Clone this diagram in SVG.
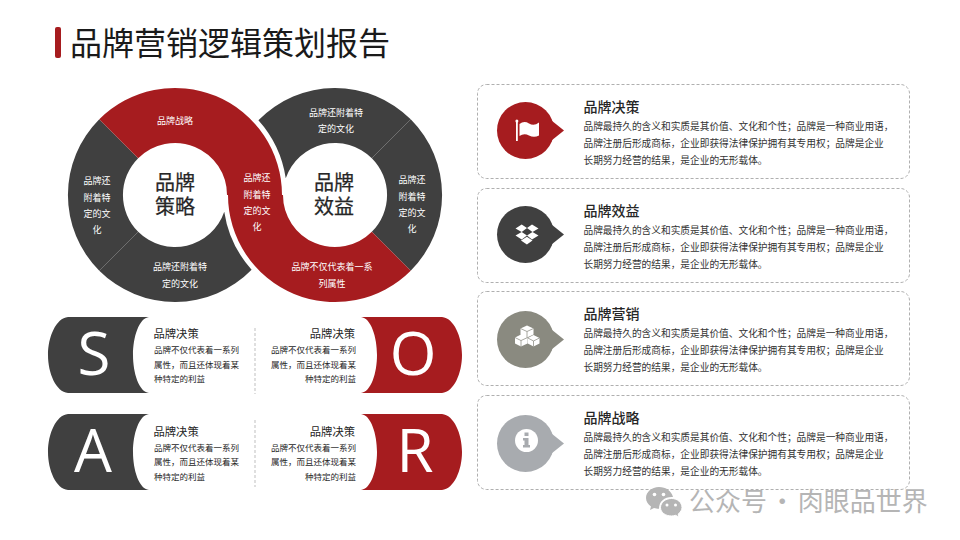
<svg xmlns="http://www.w3.org/2000/svg" width="960" height="540" viewBox="0 0 960 540">
<defs>
<style>
text{font-family:"Noto Sans CJK SC","Microsoft YaHei",sans-serif}
.red{fill:#A61C1F}.dark{fill:#404040}
.rl{font-size:9px;fill:#fff;text-anchor:middle;dominant-baseline:central}
.ctr{font-size:20px;fill:#262626;text-anchor:middle}
.let{font-family:"Open Sans",sans-serif;font-size:60px;fill:#fff;text-anchor:middle}
.h{font-size:11.3px;fill:#262626}.b{font-size:8.5px;fill:#262626}
.end{text-anchor:end}
.card{fill:#fff;stroke:#a6a6a6;stroke-width:.9;stroke-dasharray:3 2}
.ch{font-size:14px;font-weight:500;fill:#262626}.cb{font-size:9.7px;fill:#333}
.div{stroke:#bfbfbf;stroke-width:1;stroke-dasharray:3 2;fill:none}
.ic{fill:#fff}
</style>
<g id="bd">
<text class="cb" x="583.500" y="130">品牌最持久的含义和实质是其价值、文化和个性；品牌是一种商业用语，</text>
<text class="cb" x="583.500" y="147">品牌注册后形成商标，企业即获得法律保护拥有其专用权；品牌是企业</text>
<text class="cb" x="583.500" y="164">长期努力经营的结果，是企业的无形载体。</text>
</g>
<path id="tail" d="M549,-12 L564,0 L549,12Z"/>
</defs>
<rect width="960" height="540" fill="#fff"/>
<g id="title">
<rect x="55" y="27" width="6" height="31" rx="2" class="red"/>
<text x="70" y="55" font-size="32" fill="#1a1a1a">品牌营销逻辑策划报告</text>
</g>
<g id="rings">
<g id="seg-left"><path class="dark" d="M138.200,158.200L99.300,119.300A107,107 0 0 0 99.300,270.700L138.200,231.800A52,52 0 0 1 138.200,158.200Z"/>
<text class="rl" x="97" y="180">品牌还</text><text class="rl" x="97" y="197">附着特</text><text class="rl" x="97" y="213">定的文</text><text class="rl" x="97" y="229">化</text></g>
<g id="seg-bottom"><path class="dark" d="M138.200,231.800L99.300,270.700A107,107 0 0 0 251.600,269.700A112,112 0 0 1 224.250,211.700A52,52 0 0 1 138.200,231.800Z"/>
<text class="rl" x="180" y="266">品牌还附着特</text><text class="rl" x="180" y="283">定的文化</text></g>
<g id="seg-rtop"><path class="dark" d="M371.800,158.200L410.700,119.300A107,107 0 0 0 258.400,120.300A112,112 0 0 1 285.750,178.300A52,52 0 0 1 371.800,158.200Z"/>
<text class="rl" x="336" y="112">品牌还附着特</text><text class="rl" x="336" y="128">定的文化</text></g>
<g id="seg-right"><path class="dark" d="M371.800,158.200L410.700,119.300A107,107 0 0 1 410.700,270.700L371.800,231.800A52,52 0 0 0 371.800,158.200Z"/>
<text class="rl" x="412" y="179">品牌还</text><text class="rl" x="412" y="196">附着特</text><text class="rl" x="412" y="212">定的文</text><text class="rl" x="412" y="228">化</text></g>
<g id="seg-red"><path class="red" d="M99.300,119.300A107,107 0 0 1 282,195L283,195A52,52 0 0 0 371.800,231.800L410.700,270.700A107,107 0 0 1 228,195L227,195A52,52 0 0 0 138.200,158.200Z"/>
<text class="rl" x="175" y="120">品牌战略</text>
<text class="rl" x="257" y="177">品牌还</text><text class="rl" x="257" y="194">附着特</text><text class="rl" x="257" y="210">定的文</text><text class="rl" x="257" y="226">化</text>
<text class="rl" x="332" y="266">品牌不仅代表着一系</text><text class="rl" x="332" y="283">列属性</text></g>
<g id="hub-left"><text class="ctr" x="175" y="190" stroke="#262626" stroke-width=".25">品牌<tspan x="175" dy="24">策略</tspan></text></g>
<g id="hub-right"><text class="ctr" x="334" y="190" stroke="#262626" stroke-width=".25">品牌<tspan x="334" dy="24">效益</tspan></text></g>
</g>
<g id="connectors">
<path class="div" d="M255,328V394M255,420V487"/>
</g>
<g id="swot-s">
<path class="dark" d="M68,317H149C139,318 133,337 133,355C133,373 139,392 149,393H68C56,392 48,373 48,355C48,337 56,318 68,317Z"/>
<text class="let" x="94" y="375">S</text>
<text class="h" x="153.500" y="338">品牌决策</text>
<text class="b" x="154" y="353">品牌不仅代表着一系列</text><text class="b" x="154" y="368">属性，而且还体现着某</text><text class="b" x="154" y="382">种特定的利益</text>
</g>
<g id="swot-o">
<path class="red" d="M442,317H361C371,318 377,337 377,355C377,373 371,392 361,393H442C454,392 462,373 462,355C462,337 454,318 442,317Z"/>
<text class="let" x="413" y="375">O</text>
<text class="h end" x="355" y="338">品牌决策</text>
<text class="b end" x="356" y="353">品牌不仅代表着一系列</text><text class="b end" x="356" y="368">属性，而且还体现着某</text><text class="b end" x="356" y="382">种特定的利益</text>
</g>
<g id="swot-a">
<path class="dark" d="M68,414H149C139,415 133,434 133,452C133,470 139,489 149,490H68C56,489 48,470 48,452C48,434 56,415 68,414Z"/>
<text class="let" x="93" y="472">A</text>
<text class="h" x="153.500" y="436">品牌决策</text>
<text class="b" x="154" y="451">品牌不仅代表着一系列</text><text class="b" x="154" y="465">属性，而且还体现着某</text><text class="b" x="154" y="480">种特定的利益</text>
</g>
<g id="swot-r">
<path class="red" d="M442,414H361C371,415 377,434 377,452C377,470 371,489 361,490H442C454,489 462,470 462,452C462,434 454,415 442,414Z"/>
<text class="let" x="415" y="472">R</text>
<text class="h end" x="355" y="436">品牌决策</text>
<text class="b end" x="356" y="451">品牌不仅代表着一系列</text><text class="b end" x="356" y="465">属性，而且还体现着某</text><text class="b end" x="356" y="480">种特定的利益</text>
</g>
<g id="card-1">
<rect class="card" x="477.500" y="84.500" width="432" height="94" rx="9"/>
<circle cx="525.500" cy="130.500" r="28.500" fill="#A61C1F"/><use href="#tail" x="0" y="130.500" fill="#A61C1F"/>
<rect class="ic" x="516" y="121" width="1.800" height="20"/><circle class="ic" cx="516.900" cy="121" r="1.500"/>
<path class="ic" d="M519.500,124Q524,120.500 529,123.500T539,122.500V135.500Q534,138 529,135.500T519.500,136Z"/>
<text class="ch" x="583.500" y="112">品牌决策</text>
<use href="#bd"/>
</g>
<g id="card-2">
<rect class="card" x="477.500" y="188.500" width="432" height="94" rx="9"/>
<circle cx="525.500" cy="234.500" r="28.500" fill="#404040"/><use href="#tail" x="0" y="234.500" fill="#404040"/>
<path class="ic" d="M521.700,224.500L527,228L521.700,232L515.500,228.500ZM532,224.500L538.500,228.500L532.500,232L527,228ZM515.500,235.500L521.700,232L527,235.500L521.700,239.500ZM532.500,232L538.500,235.500L532,239.500L527,235.500ZM521,240.500L526.900,236.800L532.500,240.500L526.900,244.500Z"/>
<text class="ch" x="583.500" y="216">品牌效益</text>
<use href="#bd" y="104"/>
</g>
<g id="card-3">
<rect class="card" x="477.500" y="291.500" width="432" height="94" rx="9"/>
<circle cx="525.500" cy="339.500" r="28.500" fill="#8A8A80"/><use href="#tail" x="0" y="339.500" fill="#8A8A80"/>
<g transform="translate(0,46) scale(1,.86)">
<path class="ic" d="M527,325L533.500,328.500V335.500L527,339L520.500,335.500V328.500ZM521,335.500L527.500,339V346L521,349.500L515,346V339ZM533.500,336L539.500,339.500V346L533.500,349.500L527.800,346V339.500Z"/>
<path fill="none" stroke="#8A8A80" stroke-width=".8" d="M520.500,328.500L527,332L533.500,328.500M527,332V339M515,339L521,342.500L527.500,339M521,342.500V349.500M527.800,339.500L533.500,343L539.500,339.500M533.500,343V349.500"/>
</g>
<text class="ch" x="583.500" y="319">品牌营销</text>
<use href="#bd" y="207"/>
</g>
<g id="card-4">
<rect class="card" x="477.500" y="395.500" width="432" height="94" rx="9"/>
<circle cx="525.500" cy="443.500" r="28.500" fill="#A8ABAF"/><use href="#tail" x="0" y="443.500" fill="#A8ABAF"/>
<circle class="ic" cx="526.500" cy="440.500" r="11.500"/>
<path fill="#A8ABAF" d="M524.500,432.500H528.500V436H524.500ZM523,438H528.500V445H530V447.500H523V445H524.500V440.500H523Z"/>
<text class="ch" x="583.500" y="423">品牌战略</text>
<use href="#bd" y="311"/>
</g>
<g id="watermark">
<path fill="#b5b5b5" d="M659,487C651.500,487 646,492 646,498C646,501.500 648,504.500 651,506.500L650,510L654,508C655.500,508.500 657,508.800 659,508.800C659,501 665,496.500 673,497C671.500,491 666,487 659,487Z"/>
<path fill="#b5b5b5" d="M671.500,498.500C665.500,498.500 660.500,502.500 660.500,507.500C660.500,512.500 665.500,516 671.500,516C673,516 674,515.800 675.500,515.300L679,517L678.200,514C680.500,512.200 682,510 682,507.500C682,502.500 677.500,498.500 671.500,498.500Z" stroke="#fff" stroke-width="1"/>
<circle cx="654.500" cy="494.500" r="1.800" fill="#fff"/><circle cx="663.500" cy="494.500" r="1.800" fill="#fff"/>
<circle cx="667" cy="505" r="1.500" fill="#fff"/><circle cx="675.500" cy="505" r="1.500" fill="#fff"/>
<text x="689" y="510.500" font-size="26" fill="#b5b5b5" word-spacing="-3.500">公众号 · 肉眼品世界</text>
</g>
</svg>
